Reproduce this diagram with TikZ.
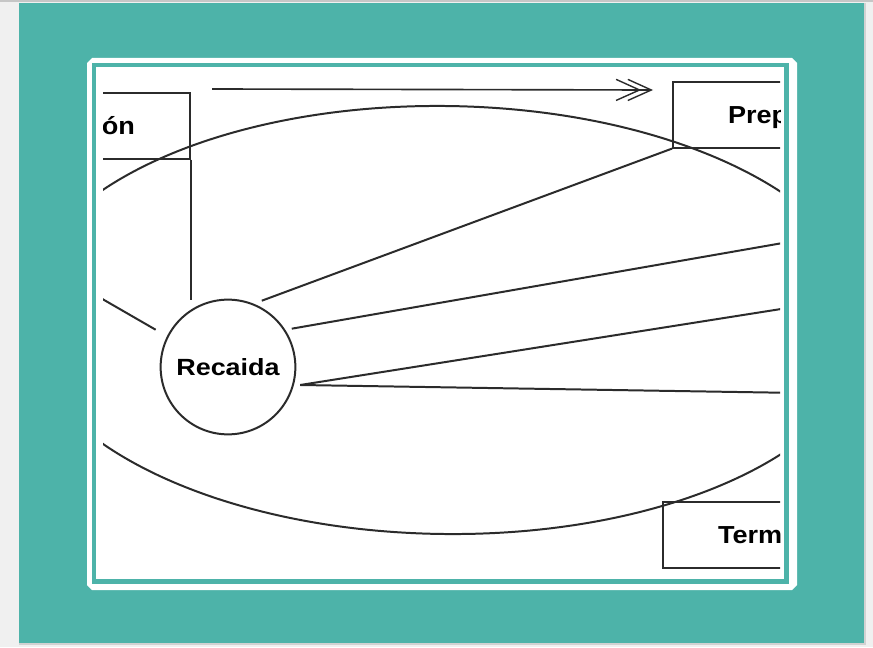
\documentclass[tikz,border=0pt]{standalone}
\usepackage{fontspec}
\setmainfont{Liberation Sans}
\usetikzlibrary{arrows.meta,positioning}
\definecolor{slideteal}{HTML}{4DB3A9}
\definecolor{inkgray}{HTML}{2B2B2B}

\begin{document}
\begin{tikzpicture}[x=0.03cm, y=-0.03cm,
    stagebox/.style={draw=inkgray, line width=1.7pt, inner xsep=47pt,
        minimum height=56pt, text height=15pt, text depth=0pt,
        font=\bfseries\fontsize{21}{24}\selectfont},
    stagecirc/.style={circle, draw=inkgray, line width=1.7pt, minimum size=115pt,
        inner sep=0pt, outer sep=6pt, font=\bfseries\fontsize{20}{24}\selectfont},
    link/.style={draw=inkgray, line width=1.7pt}]
    % slide background and frame
    \fill[gray!12] (0,0) rectangle (873,647);
    \fill[gray!45] (0,0) rectangle (873,2);
    \fill[gray!35] (19,3) rectangle (866,645);
    \fill[slideteal] (19,3) rectangle (864,643);
    \fill[white] (92,58) -- (792,58) -- (797,63) -- (797,585) -- (792,590)
        -- (92,590) -- (87,585) -- (87,63) -- cycle;
    \fill[slideteal] (92,63) rectangle (789,584);
    \fill[white] (96,67) rectangle (784,579);
    \useasboundingbox (0,0) rectangle (873,647);
    \begin{scope}
        \clip (103,67) rectangle (780,579);
        \draw[link, rotate around={-0.7:(445,320)}] (445,320) ellipse [x radius=425, y radius=214];
        \node[stagecirc] (rec) at (228,367) {\scalebox{1.15}[1]{Recaida}};
        \node[stagebox, anchor=north east] (contem) at (191,92) {\scalebox{1.1}[1]{ón}};
        \node[stagebox, anchor=north west] (prep) at (672,81) {\scalebox{1.1}[1]{Prep}};
        \node[stagebox, anchor=north west] (term) at (662,501) {\scalebox{1.1}[1]{Term}};
        \coordinate (offleft) at (40,263);
        \coordinate (accion) at (800,240);
        \coordinate (mant) at (800,306);
        \coordinate (final) at (800,393);
        % spokes
        \draw[link, shorten >=6pt] (offleft) -- (rec.153);
        \draw[link] (contem.south east) -- (contem.south east |- rec.115);
        \draw[link] (rec.63) -- (prep.south west);
        \draw[link] (rec.31) -- (accion);
        \draw[link] (rec.-14) -- (mant);
        \draw[link] (rec.-14) -- (final);
        \draw[draw=inkgray, line width=1.4pt,
            -{Straight Barb[length=20pt,width=18pt,line width=1.2pt,sep=-12pt]Straight Barb[length=20pt,width=18pt,line width=1.2pt]}]
            ([shift={(21,-3)}]contem.north east) -- ([shift={(-19,9)}]prep.north west);
    \end{scope}
\end{tikzpicture}
\end{document}
